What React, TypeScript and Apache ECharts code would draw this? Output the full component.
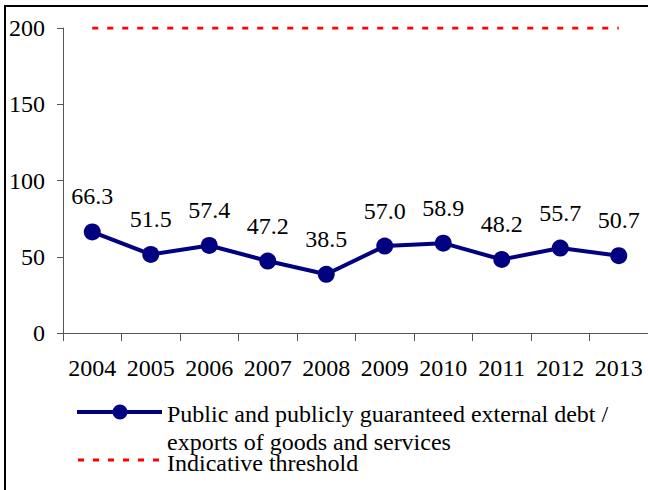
import React, { useEffect, useRef } from "react";
import * as echarts from "echarts";

const years = ["2004", "2005", "2006", "2007", "2008", "2009", "2010", "2011", "2012", "2013"];
const debtRatio = [66.3, 51.5, 57.4, 47.2, 38.5, 57.0, 58.9, 48.2, 55.7, 50.7];
const threshold = [200, 200, 200, 200, 200, 200, 200, 200, 200, 200];
const seriesNames = [
  "Public and publicly guaranteed external debt /\nexports of goods and services",
  "Indicative threshold",
];
const yTicks = { min: 0, max: 200, interval: 50 };

const FONT = "Liberation Serif";
const NAVY = "#000080";

export default function App() {
  const ref = useRef<HTMLDivElement>(null);
  useEffect(() => {
    if (!ref.current) return;
    const chart = echarts.init(ref.current, undefined, { renderer: "svg" });
    const legendLines = seriesNames[0].split("\n");
    chart.setOption({
      animation: false,
      backgroundColor: "#fff",
      textStyle: { fontFamily: FONT, color: "#000" },
      grid: { left: 63, right: -4, top: 28, bottom: 157, containLabel: false },
      xAxis: {
        type: "category",
        data: years,
        boundaryGap: true,
        axisLine: { lineStyle: { color: "#555", width: 1 } },
        axisTick: { show: true, length: 8, interval: 0, lineStyle: { color: "#555" } },
        axisLabel: { fontFamily: FONT, fontSize: 24, color: "#000", margin: 23, interval: 0 },
      },
      yAxis: {
        type: "value",
        min: yTicks.min,
        max: yTicks.max,
        interval: yTicks.interval,
        splitLine: { show: false },
        axisLine: { show: true, lineStyle: { color: "#555", width: 1 } },
        axisTick: { show: true, length: 6, lineStyle: { color: "#555" } },
        axisLabel: { fontFamily: FONT, fontSize: 24, color: "#000", margin: 18 },
      },
      series: [
        {
          name: seriesNames[1],
          type: "line",
          data: threshold,
          symbol: "none",
          lineStyle: { color: "#ff0000", width: 3, type: [6, 9] },
          z: 2,
        },
        {
          name: seriesNames[0],
          type: "line",
          data: debtRatio,
          symbol: "circle",
          symbolSize: 17,
          itemStyle: { color: NAVY },
          lineStyle: { color: NAVY, width: 4 },
          label: {
            show: true,
            position: "top",
            distance: 15,
            fontFamily: FONT,
            fontSize: 24,
            color: "#000",
            formatter: (p: any) => Number(p.value).toFixed(1),
          },
          z: 3,
        },
      ],
      graphic: [
        {
          type: "rect",
          shape: { x: 5, y: 6, width: 700, height: 600 },
          style: { fill: "none", stroke: "#000", lineWidth: 2 },
          silent: true,
        },
        {
          type: "line",
          shape: { x1: 77, y1: 412, x2: 162, y2: 412 },
          style: { stroke: NAVY, lineWidth: 4 },
        },
        {
          type: "circle",
          shape: { cx: 120, cy: 412, r: 7.5 },
          style: { fill: NAVY },
        },
        {
          type: "text",
          x: 167,
          y: 414,
          style: {
            text: legendLines[0],
            fontFamily: FONT,
            fontSize: 24,
            fill: "#000",
            verticalAlign: "middle",
            lineHeight: 20,
          },
        },
        {
          type: "text",
          x: 167,
          y: 442,
          style: {
            text: legendLines[1],
            fontFamily: FONT,
            fontSize: 24,
            fill: "#000",
            verticalAlign: "middle",
            lineHeight: 20,
          },
        },
        {
          type: "line",
          shape: { x1: 78, y1: 460, x2: 162, y2: 460 },
          style: { stroke: "#ff0000", lineWidth: 3, lineDash: [6, 9] },
        },
        {
          type: "text",
          x: 167,
          y: 463,
          style: {
            text: seriesNames[1],
            fontFamily: FONT,
            fontSize: 24,
            fill: "#000",
            verticalAlign: "middle",
            lineHeight: 20,
          },
        },
      ],
    });
    return () => chart.dispose();
  }, []);
  return (
    <div
      ref={ref}
      style={{ position: "absolute", left: 0, top: 0, width: 648, height: 490 }}
    />
  );
}
